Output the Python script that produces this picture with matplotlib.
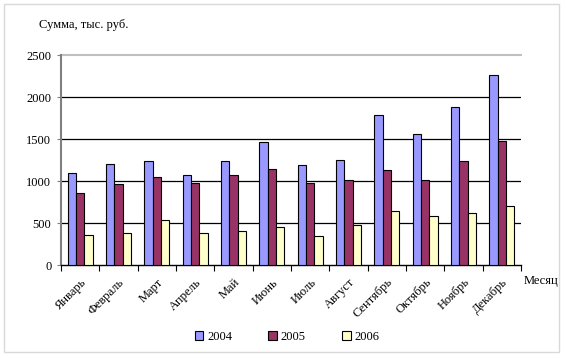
import matplotlib
matplotlib.use("Agg")
import matplotlib.pyplot as plt
from matplotlib.patches import Patch, Rectangle
import numpy as np

months = ["Январь", "Февраль", "Март", "Апрель", "Май", "Июнь", "Июль",
          "Август", "Сентябрь", "Октябрь", "Ноябрь", "Декабрь"]
s2004 = [1100, 1210, 1245, 1080, 1245, 1470, 1190, 1255, 1785, 1560, 1880, 2265]
s2005 = [860, 965, 1048, 976, 1070, 1143, 976, 1012, 1138, 1012, 1245, 1475]
s2006 = [360, 381, 536, 381, 405, 460, 345, 476, 643, 583, 619, 702]
years = ["2004", "2005", "2006"]
colors = ["#9999FF", "#993366", "#FFFFCC"]
yticks = [0, 500, 1000, 1500, 2000, 2500]

plt.rcParams['font.family'] = ['Liberation Serif', 'DejaVu Serif']

fig = plt.figure(figsize=(5.66, 3.58), dpi=100)
fig.patches.append(Rectangle((4/566, 1-352/358), 555/566, 348/358, transform=fig.transFigure,
                             fill=False, edgecolor="#d9d9d9", linewidth=1.0))
ax = fig.add_axes([61/566, 1-265.3/358, 460/566, 210/358])

x = np.arange(len(months))
w = 0.217
for i, (vals, c) in enumerate(zip([s2004, s2005, s2006], colors)):
    ax.bar(x + (i-1)*w, vals, width=w, color=c, edgecolor="black", linewidth=0.8, zorder=3)

ax.set_xlim(-0.5, len(months)-0.5)
ax.set_ylim(0, 2500)
for v in yticks[1:-1]:
    ax.axhline(v, color="black", linewidth=0.9, zorder=1)
ax.axhline(2500, color="#c0c0c0", linewidth=1.5, zorder=1, clip_on=False)

ax.set_yticks(yticks)
ax.set_yticklabels([str(v) for v in yticks], fontsize=9)
ax.tick_params(axis='y', length=3, width=0.8, color="#808080", pad=4)

ax.set_xticks(np.arange(len(months)+1)-0.5, minor=False)
ax.set_xticklabels([])
ax.tick_params(axis='x', length=4, width=0.8, direction='out')
ax.set_xticks(x, minor=True)
ax.set_xticklabels(months, minor=True, rotation=45, ha='right', va='top',
                   rotation_mode='anchor', fontsize=9)
ax.tick_params(axis='x', which='minor', length=0, pad=8)

for s in ['top', 'right']:
    ax.spines[s].set_visible(False)
ax.spines['left'].set_color("#808080")
ax.spines['left'].set_linewidth(1.5)
ax.spines['bottom'].set_color("black")
ax.spines['bottom'].set_linewidth(1.0)

fig.text(39/566, 1-25/358, "Сумма, тыс. руб.", fontsize=9, va='center', ha='left')
fig.text(524/566, 1-281/358, "Месяц", fontsize=9, va='center', ha='left')

handles = [Patch(facecolor=c, edgecolor="black", linewidth=0.8) for c in colors]
fig.legend(handles, years, loc='center', bbox_to_anchor=(287/566, 1-337/358), ncol=3,
           frameon=False, fontsize=9, handlelength=0.7, handleheight=0.7,
           handletextpad=0.3, columnspacing=2.9)

fig.savefig("out.png", dpi=100)
